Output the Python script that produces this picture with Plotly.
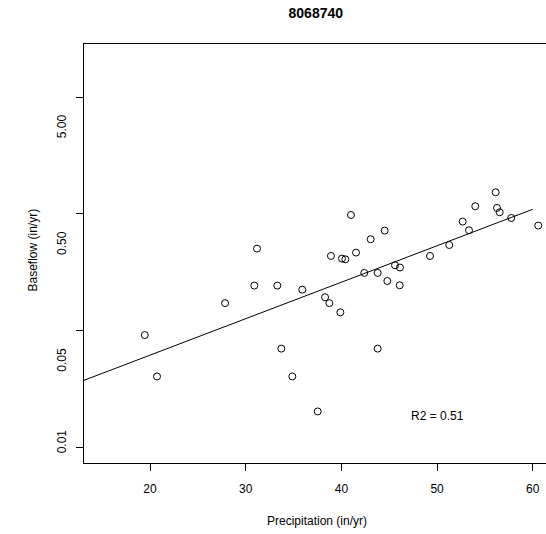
import plotly.graph_objects as go
import math

# Data
precip = [19.45, 20.73, 27.84, 31.18, 30.90, 33.30, 33.72, 34.87, 35.91, 37.52,
          38.29, 38.74, 39.89, 38.91, 40.06, 40.41, 41.00, 41.53, 43.06, 42.39,
          43.79, 43.79, 44.52, 44.80, 45.60, 46.12, 46.09, 49.26, 51.27, 52.67,
          53.33, 53.99, 56.12, 56.26, 56.54, 57.75, 60.57]
baseflow = [0.0916, 0.0405, 0.172, 0.504, 0.243, 0.243, 0.0701, 0.0405, 0.2245, 0.0203,
            0.193, 0.172, 0.1435, 0.436, 0.414, 0.408, 0.978, 0.466, 0.606, 0.312,
            0.312, 0.0701, 0.719, 0.266, 0.363, 0.347, 0.2445, 0.436, 0.541, 0.859,
            0.724, 1.162, 1.531, 1.124, 1.032, 0.922, 0.794]

# fitted regression (log10 baseflow vs precipitation)
fit_intercept = -1.835
fit_slope = 0.03124
fit_x = [0, 60]
r2_text = "R2 = 0.51"

x_ticks = [20, 30, 40, 50, 60]
y_tick_marks = [0.01, 0.1, 1, 10]
y_label_vals = [0.01, 0.05, 0.5, 5]
y_label_text = ["0.01", "0.05", "0.50", "5.00"]

FONT = "Liberation Sans, Arial, Helvetica, sans-serif"

fig = go.Figure()
fig.add_trace(go.Scatter(
    x=precip, y=baseflow, mode="markers",
    marker=dict(symbol="circle-open", size=7, color="black", line=dict(width=1, color="black")),
    showlegend=False, hoverinfo="skip"))
fig.add_trace(go.Scatter(
    x=fit_x, y=[10 ** (fit_intercept + fit_slope * v) for v in fit_x], mode="lines",
    line=dict(color="black", width=1), showlegend=False, hoverinfo="skip"))

annotations = []
for v, t in zip(y_label_vals, y_label_text):
    annotations.append(dict(x=0, xref="paper", y=math.log10(v), yref="y", text=t,
                            showarrow=False, textangle=-90, xanchor="center", yanchor="middle",
                            xshift=-22, yshift=6, font=dict(family=FONT, size=12, color="black")))
annotations.append(dict(x=0, xref="paper", y=0.5, yref="paper", text="Baseflow (in/yr)",
                        showarrow=False, textangle=-90, xanchor="center", yanchor="middle",
                        xshift=-52, yshift=3, font=dict(family=FONT, size=12, color="black")))
annotations.append(dict(x=37.45, xref="x", y=0, yref="paper", text="Precipitation (in/yr)",
                        showarrow=False, xanchor="center", yanchor="middle",
                        yshift=-58, font=dict(family=FONT, size=12, color="black")))
annotations.append(dict(x=50, xref="x", y=math.log10(0.0186), yref="y", text=r2_text,
                        showarrow=False, xanchor="center", yanchor="middle",
                        font=dict(family=FONT, size=12, color="black")))

fig.update_layout(
    width=546, height=534,
    margin=dict(l=84, r=0, t=44, b=71),
    paper_bgcolor="white", plot_bgcolor="white",
    font=dict(family=FONT, size=12, color="black"),
    title=dict(text="<b>8068740</b>", x=0.5784, xref="container", xanchor="center",
               y=1 - 13.5 / 534, yref="container", yanchor="middle",
               font=dict(family=FONT, size=14, color="black")),
    xaxis=dict(range=[13.10, 61.38], tickvals=x_ticks, ticks="outside", ticklen=7,
               tickwidth=1, tickcolor="black", showline=True, linecolor="black", linewidth=1,
               mirror=True, showgrid=False, zeroline=False, ticklabelstandoff=8,
               tickfont=dict(family=FONT, size=12, color="black")),
    yaxis=dict(type="log", range=[-2.134, 1.455], tickvals=y_tick_marks,
               ticktext=["", "", "", ""], ticks="outside", ticklen=7, tickwidth=1,
               tickcolor="black", showline=True, linecolor="black", linewidth=1,
               mirror=False, showgrid=False, zeroline=False),
    annotations=annotations,
)

fig.write_html("out.html", config={"displayModeBar": False},
               post_script="document.body.style.margin='0';document.body.style.overflow='hidden';")
